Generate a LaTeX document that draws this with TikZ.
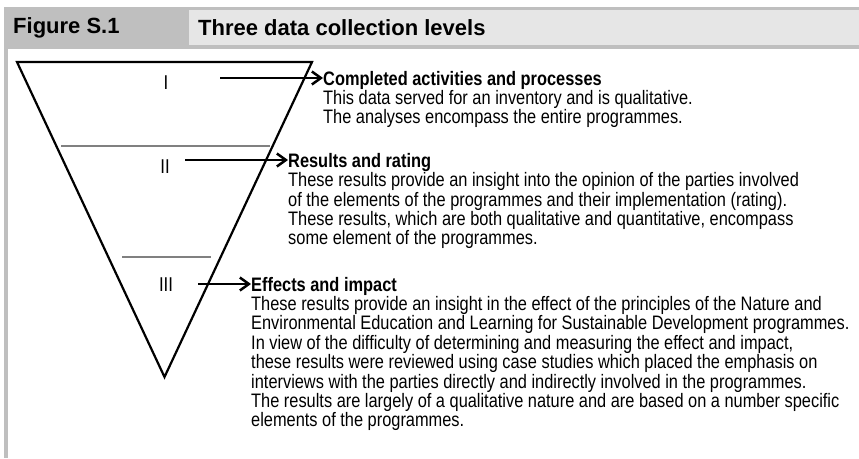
\documentclass[tikz,border=0pt]{standalone}
\usepackage{fontspec}
\setmainfont{Liberation Sans}
\newfontfamily\narrowfont[FakeStretch=0.84]{Liberation Sans}
\usetikzlibrary{arrows.meta, positioning}
\definecolor{bandgray}{HTML}{BFBFBF}
\definecolor{bandlight}{HTML}{E6E6E6}
\tikzstyle{bandtxt} = [anchor=west, inner sep=0pt, font=\bfseries\fontsize{22}{22}\selectfont]
\tikzstyle{numeral} = [inner sep=0pt, font=\narrowfont\fontsize{20}{20}\selectfont]
\tikzstyle{headtxt} = [anchor=base west, inner sep=0pt, font=\narrowfont\bfseries\fontsize{19.5}{19.5}\selectfont]
\tikzstyle{desc} = [inner sep=0pt, align=left, font=\narrowfont\fontsize{19.5}{19.4}\selectfont]
\tikzstyle{arrow} = [line width=2.5pt, -{Straight Barb[length=9pt,width=13pt]}]
\tikzstyle{level} = [line width=1.3pt, draw=gray]

\begin{document}
\begin{tikzpicture}[x=1pt, y=-1pt]
				\useasboundingbox (0,0) rectangle (859,458);
				% title band
				\fill[bandgray] (4,7) rectangle (859,49);
				\fill[bandlight] (189,10) rectangle (859,45);
				\fill[bandgray] (4,49) rectangle (8,458);
				\node (fig) [bandtxt] at (13,28) {Figure S.1};
				\node (title) [bandtxt] at (198,28) {Three data collection levels};
				% funnel
				\draw[line width=2.2pt] (17,62) -- (312,62) -- (164.5,377) -- cycle;
				\draw[level] (61,146) -- (270,146);
				\draw[level] (122,257) -- (211,257);
				\node (lvl1) [numeral] at (166,83) {I};
				\node (lvl2) [numeral] at (165,167) {II};
				\node (lvl3) [numeral] at (166,285) {III};
				% descriptions
				\node (head1) [headtxt] at (323,85) {Completed activities and processes};
				\node (body1) [desc, below right=1pt and 0pt of head1.south west] {This data served for an inventory and is qualitative.\\The analyses encompass the entire programmes.};
				\node (head2) [headtxt] at (288,167) {Results and rating};
				\node (body2) [desc, below right=1pt and 0pt of head2.south west] {These results provide an insight into the opinion of the parties involved\\of the elements of the programmes and their implementation (rating).\\These results, which are both qualitative and quantitative, encompass\\some element of the programmes.};
				\node (head3) [headtxt] at (251,291) {Effects and impact};
				\node (body3) [desc, below right=1pt and 0pt of head3.south west] {These results provide an insight in the effect of the principles of the Nature and\\Environmental Education and Learning for Sustainable Development programmes.\\In view of the difficulty of determining and measuring the effect and impact,\\these results were reviewed using case studies which placed the emphasis on\\interviews with the parties directly and indirectly involved in the programmes.\\The results are largely of a qualitative nature and are based on a number specific\\elements of the programmes.};
				% arrows
				\coordinate (a1) at (220,78);
				\coordinate (a2) at (185,160);
				\coordinate (a3) at (198,284);
				\draw[arrow] (a1) -- (a1 -| head1.west);
				\draw[arrow] (a2) -- (a2 -| head2.west);
				\draw[arrow] (a3) -- (a3 -| head3.west);
			\end{tikzpicture}
\end{document}
